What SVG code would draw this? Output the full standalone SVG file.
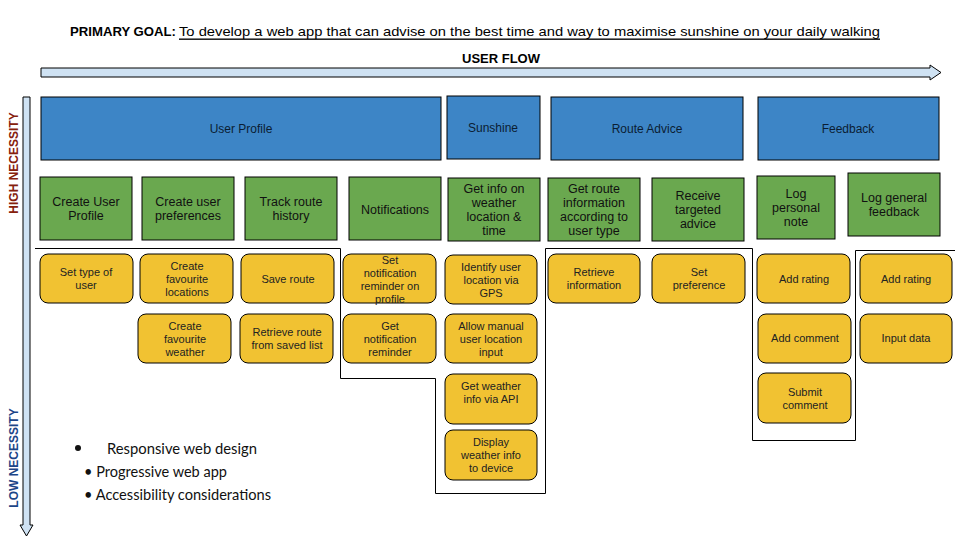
<svg xmlns="http://www.w3.org/2000/svg" width="960" height="540" viewBox="0 0 960 540">
<style>
text{font-family:"Liberation Sans",Arial,sans-serif;dominant-baseline:central;text-anchor:middle}
.blue{fill:#3d85c6;stroke:#000;stroke-width:1}
.green{fill:#6aa84f;stroke:#000;stroke-width:1}
.yel{fill:#f1c232;stroke:#000;stroke-width:1}
.bt{font-size:12px;fill:#0b1d33}
.gt{font-size:12.5px;fill:#111}
.yt{font-size:11px;fill:#222}
.div{fill:none;stroke:#000;stroke-width:1}
.arr{fill:#cfe2f3;stroke:#000;stroke-width:1}
.bul{font-family:"Lato","Liberation Sans",sans-serif;font-size:15px;fill:#111;text-anchor:start}
</style>
<rect width="960" height="540" fill="#fff"/>

<g id="title">
<text x="70" y="31" style="text-anchor:start;font-size:13px;font-weight:bold" textLength="106" lengthAdjust="spacingAndGlyphs">PRIMARY GOAL:</text>
<text x="179" y="31" style="text-anchor:start;font-size:13.5px;text-decoration:underline" textLength="701" lengthAdjust="spacingAndGlyphs">To develop a web app that can advise on the best time and way to maximise sunshine on  your daily walking</text>
<text x="501" y="58" style="font-size:13px;font-weight:bold">USER FLOW</text>
</g>

<g id="axes">
<path class="arr" d="M41,68 H930 V65 L941,72.5 L930,80 V77 H41 Z"/>
<path class="arr" d="M23,97 H30 V525 H33 L26.5,536 L20,525 H23 Z"/>
<text transform="translate(14,163) rotate(-90)" style="font-size:12px;font-weight:bold;fill:#85200c">HIGH NECESSITY</text>
<text transform="translate(14,458) rotate(-90)" style="font-size:12px;font-weight:bold;fill:#1c4587">LOW NECESSITY</text>
</g>

<g id="connectors">
<path class="div" d="M35,248.5 H340.5 V378.5 H435.5 V493.5 H545.5 V248.5 H752.5 V440.5 H855.5 V250.5 H955"/>
</g>

<g id="n-user-profile"><rect class="blue" x="41" y="97" width="400" height="63"/><text class="bt" x="241" y="129">User Profile</text></g>
<g id="n-sunshine"><rect class="blue" x="447" y="96" width="93" height="63"/><text class="bt" x="493" y="128">Sunshine</text></g>
<g id="n-route-advice"><rect class="blue" x="551" y="97" width="192" height="63"/><text class="bt" x="647" y="129">Route Advice</text></g>
<g id="n-feedback"><rect class="blue" x="758" y="97" width="181" height="63"/><text class="bt" x="848" y="129">Feedback</text></g>

<g id="n-create-user-profile"><rect class="green" x="40" y="177" width="92" height="63"/><text class="gt" x="86"><tspan x="86" y="202">Create User</tspan><tspan x="86" y="216">Profile</tspan></text></g>
<g id="n-create-user-preferences"><rect class="green" x="142" y="177" width="92" height="63"/><text class="gt"><tspan x="188" y="202">Create user</tspan><tspan x="188" y="216">preferences</tspan></text></g>
<g id="n-track-route-history"><rect class="green" x="245" y="177" width="92" height="63"/><text class="gt"><tspan x="291" y="202">Track route</tspan><tspan x="291" y="216">history</tspan></text></g>
<g id="n-notifications"><rect class="green" x="349" y="177" width="92" height="63"/><text class="gt" x="395" y="210">Notifications</text></g>
<g id="n-get-info-weather"><rect class="green" x="448" y="178" width="92" height="63"/><text class="gt"><tspan x="494" y="189">Get info on</tspan><tspan x="494" y="203">weather</tspan><tspan x="494" y="217">location &amp;</tspan><tspan x="494" y="231">time</tspan></text></g>
<g id="n-get-route-info"><rect class="green" x="548" y="178" width="92" height="63"/><text class="gt"><tspan x="594" y="189">Get route</tspan><tspan x="594" y="203">information</tspan><tspan x="594" y="217">according to</tspan><tspan x="594" y="231">user type</tspan></text></g>
<g id="n-receive-advice"><rect class="green" x="652" y="178" width="92" height="63"/><text class="gt"><tspan x="698" y="196">Receive</tspan><tspan x="698" y="210">targeted</tspan><tspan x="698" y="224">advice</tspan></text></g>
<g id="n-log-personal-note"><rect class="green" x="757" y="176" width="78" height="63"/><text class="gt"><tspan x="796" y="194">Log</tspan><tspan x="796" y="208">personal</tspan><tspan x="796" y="222">note</tspan></text></g>
<g id="n-log-general-feedback"><rect class="green" x="848" y="173" width="92" height="63"/><text class="gt"><tspan x="894" y="198">Log general</tspan><tspan x="894" y="212">feedback</tspan></text></g>

<g id="n-set-type-user"><rect class="yel" x="40" y="254" width="93" height="49" rx="8"/><text class="yt"><tspan x="86" y="272">Set type of</tspan><tspan x="86" y="285">user</tspan></text></g>
<g id="n-fav-locations"><rect class="yel" x="140" y="254" width="93" height="49" rx="8"/><text class="yt"><tspan x="187" y="266">Create</tspan><tspan x="187" y="279">favourite</tspan><tspan x="187" y="292">locations</tspan></text></g>
<g id="n-save-route"><rect class="yel" x="241" y="254" width="93" height="49" rx="8"/><text class="yt" x="288" y="279">Save route</text></g>
<g id="n-set-notification"><rect class="yel" x="343" y="254" width="93" height="49" rx="8"/><text class="yt"><tspan x="390" y="260">Set</tspan><tspan x="390" y="273">notification</tspan><tspan x="390" y="286">reminder on</tspan><tspan x="390" y="299">profile</tspan></text></g>
<g id="n-identify-gps"><rect class="yel" x="445" y="255" width="92" height="49" rx="8"/><text class="yt"><tspan x="491" y="267">Identify user</tspan><tspan x="491" y="280">location via</tspan><tspan x="491" y="293">GPS</tspan></text></g>
<g id="n-retrieve-info"><rect class="yel" x="548" y="254" width="92" height="49" rx="8"/><text class="yt"><tspan x="594" y="272">Retrieve</tspan><tspan x="594" y="285">information</tspan></text></g>
<g id="n-set-preference"><rect class="yel" x="652" y="254" width="93" height="49" rx="8"/><text class="yt"><tspan x="699" y="272">Set</tspan><tspan x="699" y="285">preference</tspan></text></g>
<g id="n-add-rating-1"><rect class="yel" x="757" y="254" width="93" height="49" rx="8"/><text class="yt" x="804" y="279">Add rating</text></g>
<g id="n-add-rating-2"><rect class="yel" x="860" y="254" width="92" height="49" rx="8"/><text class="yt" x="906" y="279">Add rating</text></g>

<g id="n-fav-weather"><rect class="yel" x="138" y="314" width="93" height="49" rx="8"/><text class="yt"><tspan x="185" y="326">Create</tspan><tspan x="185" y="339">favourite</tspan><tspan x="185" y="352">weather</tspan></text></g>
<g id="n-retrieve-route"><rect class="yel" x="240" y="314" width="93" height="49" rx="8"/><text class="yt"><tspan x="287" y="332">Retrieve route</tspan><tspan x="287" y="345">from saved list</tspan></text></g>
<g id="n-get-notification"><rect class="yel" x="343" y="314" width="93" height="49" rx="8"/><text class="yt"><tspan x="390" y="326">Get</tspan><tspan x="390" y="339">notification</tspan><tspan x="390" y="352">reminder</tspan></text></g>
<g id="n-manual-location"><rect class="yel" x="445" y="314" width="92" height="49" rx="8"/><text class="yt"><tspan x="491" y="326">Allow manual</tspan><tspan x="491" y="339">user location</tspan><tspan x="491" y="352">input</tspan></text></g>
<g id="n-add-comment"><rect class="yel" x="758" y="314" width="93" height="49" rx="8"/><text class="yt" x="805" y="338">Add comment</text></g>
<g id="n-input-data"><rect class="yel" x="860" y="314" width="92" height="49" rx="8"/><text class="yt" x="906" y="338">Input data</text></g>

<g id="n-weather-api"><rect class="yel" x="445" y="374" width="92" height="50" rx="8"/><text class="yt"><tspan x="491" y="386">Get weather</tspan><tspan x="491" y="399">info via API</tspan></text></g>
<g id="n-submit-comment"><rect class="yel" x="758" y="373" width="93" height="50" rx="8"/><text class="yt"><tspan x="805" y="392">Submit</tspan><tspan x="805" y="405">comment</tspan></text></g>
<g id="n-display-weather"><rect class="yel" x="445" y="430" width="92" height="50" rx="8"/><text class="yt"><tspan x="491" y="442">Display</tspan><tspan x="491" y="455">weather info</tspan><tspan x="491" y="468">to device</tspan></text></g>

<g id="notes">
<circle cx="78" cy="448" r="3" fill="#111"/>
<text class="bul" x="107" y="448" textLength="150" lengthAdjust="spacingAndGlyphs">Responsive web design</text>
<text class="bul" x="84" y="471" textLength="143" lengthAdjust="spacingAndGlyphs">• Progressive web app</text>
<text class="bul" x="84" y="494" textLength="187" lengthAdjust="spacingAndGlyphs">• Accessibility considerations</text>
</g>
</svg>
